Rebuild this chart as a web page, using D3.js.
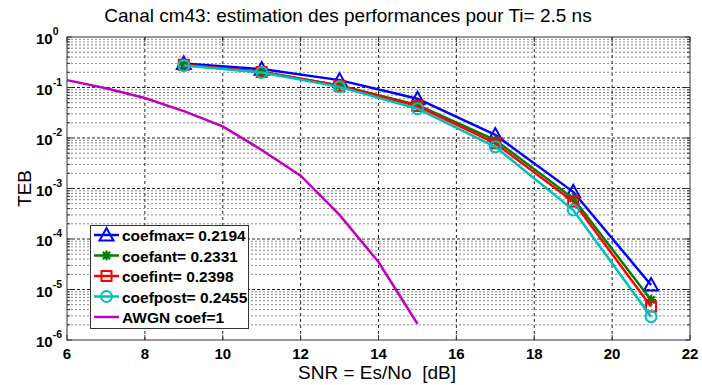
<!DOCTYPE html>
<html>
<head>
<meta charset="utf-8">
<script src="https://cdn.jsdelivr.net/npm/d3@7/dist/d3.min.js"></script>
<style>
  html, body { margin: 0; padding: 0; background: #fff; }
  svg { display: block; font-family: "Liberation Sans", Arial, sans-serif; }
  .pre { white-space: pre; }
</style>
</head>
<body>
<svg id="chart" width="702" height="385"></svg>
<script>
// SNR values (dB) of the simulated points
const snr = [9, 11, 13, 15, 17, 19, 21];
// bit error rate for each coefficient estimator
const coefmax  = [0.30, 0.232, 0.140, 0.060, 0.0115, 8.6e-4, 1.23e-5];
const coefant  = [0.280, 0.205, 0.110, 0.045, 0.0091, 6.4e-4, 6.2e-6];
const coefint  = [0.282, 0.203, 0.108, 0.043, 0.0079, 5.5e-4, 4.6e-6];
const coefpost = [0.272, 0.198, 0.103, 0.038, 0.0067, 3.75e-4, 2.9e-6];
// reference AWGN curve
const snrAwgn = [6, 7, 8, 9, 10, 11, 12, 13, 14, 15];
const awgn = [0.14, 0.097, 0.062, 0.034, 0.017, 0.0058, 0.0018, 3.0e-4, 3.5e-5, 2.1e-6];

const xTicks = [6, 8, 10, 12, 14, 16, 18, 20, 22];
const yExponents = [0, -1, -2, -3, -4, -5, -6];

const series = [
  { name: "coefmax= 0.2194",  values: coefmax,  color: "#0000ff", marker: "triangle" },
  { name: "coefant= 0.2331",  values: coefant,  color: "#008000", marker: "star" },
  { name: "coefint= 0.2398",  values: coefint,  color: "#ff0000", marker: "square" },
  { name: "coefpost= 0.2455", values: coefpost, color: "#00bfbf", marker: "circle" }
];
const awgnSeries = { name: "AWGN coef=1", color: "#bf00bf" };

const svg = d3.select("#chart");
const pL = 67, pR = 690, pT = 37, pB = 340;

const x = d3.scaleLinear().domain([6, 22]).range([pL, pR]);
const y = d3.scaleLog().domain([1e-6, 1]).range([pB, pT]);

// minor log grid
const minorVals = [];
for (let e = -6; e < 0; e++) for (let k = 2; k <= 9; k++) minorVals.push(k * Math.pow(10, e));

const grid = svg.append("g");
grid.selectAll("line.minor").data(minorVals).join("line")
  .attr("x1", pL).attr("x2", pR)
  .attr("y1", d => y(d)).attr("y2", d => y(d))
  .attr("stroke", "#8a8a8a").attr("stroke-width", 1).attr("stroke-dasharray", "2,2");
grid.selectAll("line.majy").data(yExponents.slice(1, -1)).join("line")
  .attr("x1", pL).attr("x2", pR)
  .attr("y1", d => y(Math.pow(10, d))).attr("y2", d => y(Math.pow(10, d)))
  .attr("stroke", "#222").attr("stroke-width", 1).attr("stroke-dasharray", "3,2");
grid.selectAll("line.majx").data(xTicks.slice(1, -1)).join("line")
  .attr("x1", d => x(d)).attr("x2", d => x(d))
  .attr("y1", pT).attr("y2", pB)
  .attr("stroke", "#222").attr("stroke-width", 1).attr("stroke-dasharray", "3,3");

// tick marks inside the box
const ticks = svg.append("g").attr("stroke", "#333").attr("stroke-width", 1);
xTicks.forEach(t => {
  ticks.append("line").attr("x1", x(t)).attr("x2", x(t)).attr("y1", pB).attr("y2", pB - 5);
  ticks.append("line").attr("x1", x(t)).attr("x2", x(t)).attr("y1", pT).attr("y2", pT + 5);
});
yExponents.forEach(e => {
  const yy = y(Math.pow(10, e));
  ticks.append("line").attr("x1", pL).attr("x2", pL + 5).attr("y1", yy).attr("y2", yy);
  ticks.append("line").attr("x1", pR).attr("x2", pR - 5).attr("y1", yy).attr("y2", yy);
});
minorVals.forEach(v => {
  ticks.append("line").attr("x1", pL).attr("x2", pL + 3).attr("y1", y(v)).attr("y2", y(v));
  ticks.append("line").attr("x1", pR).attr("x2", pR - 3).attr("y1", y(v)).attr("y2", y(v));
});

// axes box
svg.append("rect").attr("x", pL).attr("y", pT)
  .attr("width", pR - pL).attr("height", pB - pT)
  .attr("fill", "none").attr("stroke", "#333").attr("stroke-width", 1);

// x tick labels
svg.append("g").selectAll("text").data(xTicks).join("text")
  .attr("x", d => x(d)).attr("y", pB + 19)
  .attr("text-anchor", "middle").attr("font-size", 15).attr("font-weight", "bold")
  .text(d => d);

// y tick labels: 10 with superscript exponent
const yl = svg.append("g").selectAll("text").data(yExponents).join("text")
  .attr("x", 36).attr("y", d => y(Math.pow(10, d)) + 7)
  .attr("text-anchor", "start").attr("font-size", 15).attr("font-weight", "bold");
yl.append("tspan").text("10");
yl.append("tspan").attr("dy", -9).attr("font-size", 10.5).text(d => d);

// axis titles
svg.append("text").attr("class", "pre").attr("x", 377).attr("y", 379)
  .attr("text-anchor", "middle").attr("font-size", 19).text("SNR = Es/No  [dB]");
svg.append("text").attr("transform", `translate(31,${(pT + pB) / 2}) rotate(-90)`)
  .attr("text-anchor", "middle").attr("font-size", 19).text("TEB");
svg.append("text").attr("x", 348).attr("y", 22)
  .attr("text-anchor", "middle").attr("font-size", 19)
  .text("Canal cm43: estimation des performances pour Ti= 2.5 ns");

// marker drawing
function drawMarker(g, type, cx, cy, color) {
  if (type === "triangle") {
    const s = 7;
    g.append("path").attr("d", `M${cx},${cy - s}L${cx + s},${cy + s * 0.8}L${cx - s},${cy + s * 0.8}Z`)
      .attr("fill", "none").attr("stroke", color).attr("stroke-width", 2);
  } else if (type === "square") {
    g.append("rect").attr("x", cx - 5).attr("y", cy - 5).attr("width", 10).attr("height", 10)
      .attr("fill", "none").attr("stroke", color).attr("stroke-width", 2);
  } else if (type === "circle") {
    g.append("circle").attr("cx", cx).attr("cy", cy).attr("r", 5.5)
      .attr("fill", "none").attr("stroke", color).attr("stroke-width", 2);
  } else if (type === "star") {
    const s = 5;
    const p = `M${cx - s},${cy}L${cx + s},${cy}M${cx},${cy - s}L${cx},${cy + s}` +
      `M${cx - s * 0.72},${cy - s * 0.72}L${cx + s * 0.72},${cy + s * 0.72}` +
      `M${cx - s * 0.72},${cy + s * 0.72}L${cx + s * 0.72},${cy - s * 0.72}`;
    g.append("path").attr("d", p).attr("stroke", color).attr("stroke-width", 2.2).attr("fill", "none");
  }
}

const line = d3.line().x(d => x(d[0])).y(d => y(d[1]));
const plot = svg.append("g");
series.forEach(s => {
  const pts = snr.map((v, i) => [v, s.values[i]]);
  plot.append("path").datum(pts).attr("d", line)
    .attr("fill", "none").attr("stroke", s.color).attr("stroke-width", 2.5);
  pts.forEach(p => drawMarker(plot, s.marker, x(p[0]), y(p[1]), s.color));
});
plot.append("path").datum(snrAwgn.map((v, i) => [v, awgn[i]])).attr("d", line)
  .attr("fill", "none").attr("stroke", awgnSeries.color).attr("stroke-width", 2.5);

// legend
const lg = svg.append("g");
lg.append("rect").attr("x", 90.5).attr("y", 225.5).attr("width", 158).attr("height", 103)
  .attr("fill", "#fff").attr("stroke", "#333").attr("stroke-width", 1);
const entries = series.concat([{ name: awgnSeries.name, color: awgnSeries.color, marker: null }]);
entries.forEach((s, i) => {
  const ly = 235 + i * 20.5;
  lg.append("line").attr("x1", 94).attr("x2", 119).attr("y1", ly).attr("y2", ly)
    .attr("stroke", s.color).attr("stroke-width", 2.5);
  if (s.marker) drawMarker(lg, s.marker, 106.5, ly, s.color);
  lg.append("text").attr("x", 122).attr("y", ly + 6)
    .attr("font-size", 15.5).attr("font-weight", "bold").text(s.name);
});
</script>
</body>
</html>
